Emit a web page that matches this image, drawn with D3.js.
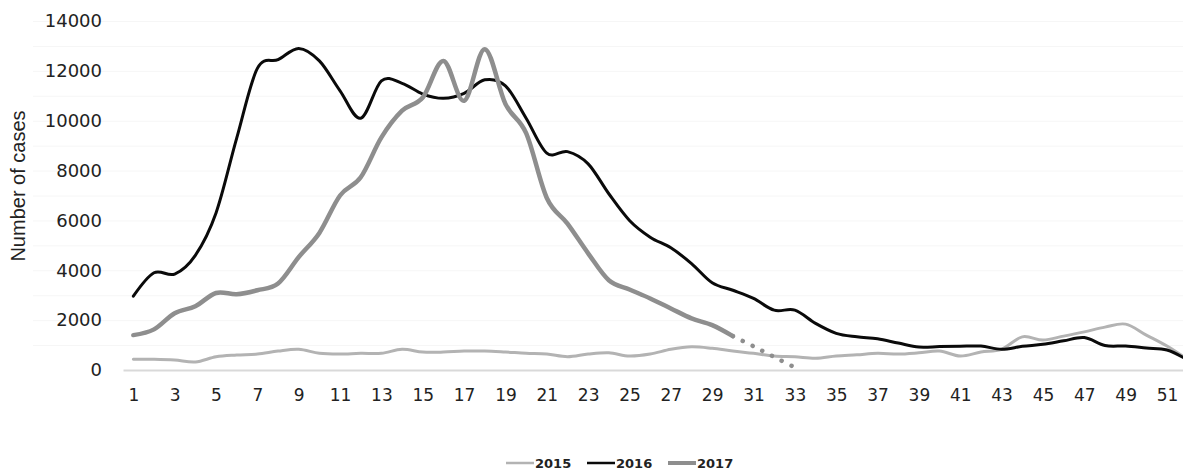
<!DOCTYPE html>
<html>
<head>
<meta charset="utf-8">
<script src="https://cdn.jsdelivr.net/npm/d3@7"></script>
<style>
  body { margin: 0; background: #fff; }
  svg { display: block; }
  .tick text { fill: #222; }
</style>
</head>
<body>
<svg width="1183" height="473"></svg>
<script>
// weekly cases
var weeks = d3.range(1, 53);
var cases2015 = [430,430,400,320,530,600,640,760,830,670,
                 640,670,670,830,720,720,760,760,720,670,
                 640,530,640,690,560,640,830,930,870,760,
                 670,560,530,470,560,610,670,640,690,760,
                 560,720,830,1330,1200,1360,1530,1720,1840,1400,
                 960,420];
var cases2016 = [2960,3900,3850,4600,6300,9300,12100,12450,12900,12400,
                 11200,10100,11600,11500,11070,10900,11100,11640,11400,10100,
                 8700,8760,8270,7070,6000,5330,4900,4270,3500,3200,
                 2870,2400,2400,1870,1470,1330,1250,1080,920,940,
                 955,960,830,950,1030,1170,1300,980,960,880,
                 800,400];
var cases2017 = [1400,1630,2280,2560,3090,3040,3200,3470,4530,5500,
                 7000,7730,9330,10400,10930,12400,10800,12870,10670,9500,
                 6900,5870,4680,3600,3230,2870,2470,2070,1800,1360];
var proj2017Weeks = [30, 31, 32, 33];
var proj2017 = [1360, 950, 520, 100];
var yTicks = [0, 2000, 4000, 6000, 8000, 10000, 12000, 14000];
var legendYears = ["2015", "2016", "2017"];

var svg = d3.select("svg"),
    width = +svg.attr("width"),
    height = +svg.attr("height");

var x = d3.scalePoint()
    .domain(weeks)
    .range([123, 1198])
    .padding(0.5);
var y = d3.scaleLinear()
    .domain([0, 14000])
    .range([370, 21]);

// faint grid
svg.append("g")
  .selectAll("line")
  .data(d3.range(1000, 14001, 1000))
  .enter().append("line")
    .attr("x1", 33).attr("x2", width)
    .attr("y1", function (d) { return y(d) + 0.5; })
    .attr("y2", function (d) { return y(d) + 0.5; })
    .style("stroke", "#f6f6f6");

// y axis
var yAxis = svg.append("g")
    .attr("transform", "translate(110,0)")
    .call(d3.axisLeft(y).tickValues(yTicks).tickSize(0).tickPadding(8).tickFormat(d3.format("d")));
yAxis.select(".domain").remove();
yAxis.selectAll("text")
    .style("font-family", "DejaVu Sans")
    .style("font-size", "18px");

// x axis
var xAxis = svg.append("g")
    .attr("transform", "translate(0,370)")
    .call(d3.axisBottom(x).tickValues(weeks.filter(function (w) { return w % 2 === 1; }))
      .tickSize(0).tickPadding(19));
xAxis.select(".domain")
    .style("stroke", "#d9d9d9")
    .style("stroke-width", 2);
xAxis.selectAll("text")
    .style("font-family", "DejaVu Sans")
    .style("font-size", "17px");

svg.append("text")
    .attr("transform", "translate(25,186)rotate(-90)")
    .attr("text-anchor", "middle")
    .style("font-family", "Liberation Sans")
    .style("font-size", "20px")
    .style("fill", "#222")
    .text("Number of cases");

var line = d3.line()
    .x(function (d) { return x(d[0]); })
    .y(function (d) { return y(d[1]); })
    .curve(d3.curveCardinal.tension(0));

function pairs(vals) {
  return vals.map(function (v, i) { return [weeks[i], v]; });
}

var series = [
  { data: pairs(cases2015), color: "#b3b3b3", w: 3 },
  { data: pairs(cases2016), color: "#0a0a0a", w: 3 },
  { data: pairs(cases2017), color: "#8e8e8e", w: 4.5 }
];

svg.append("g")
  .selectAll("path")
  .data(series)
  .enter().append("path")
    .attr("d", function (d) { return line(d.data); })
    .style("fill", "none")
    .style("stroke", function (d) { return d.color; })
    .style("stroke-width", function (d) { return d.w; })
    .style("stroke-linejoin", "round")
    .style("stroke-linecap", "round");

// dotted continuation of 2017
svg.append("path")
    .attr("d", line(proj2017Weeks.map(function (w, i) { return [w, proj2017[i]]; })))
    .style("fill", "none")
    .style("stroke", "#8e8e8e")
    .style("stroke-width", 4.5)
    .style("stroke-linecap", "round")
    .style("stroke-dasharray", "0.1 10.8")
    .style("stroke-dashoffset", -11);

// legend
var legX = [506, 587, 668];
var legend = svg.append("g");
legendYears.forEach(function (yr, i) {
  var s = series[i];
  legend.append("line")
    .attr("x1", legX[i]).attr("x2", legX[i] + 28)
    .attr("y1", 463).attr("y2", 463)
    .style("stroke", s.color)
    .style("stroke-width", s.w - 0.5);
  legend.append("text")
    .attr("x", legX[i] + 29)
    .attr("y", 468)
    .style("font-family", "DejaVu Sans")
    .style("font-weight", "bold")
    .style("font-size", "13px")
    .style("fill", "#222")
    .text(yr);
});
</script>
</body>
</html>
